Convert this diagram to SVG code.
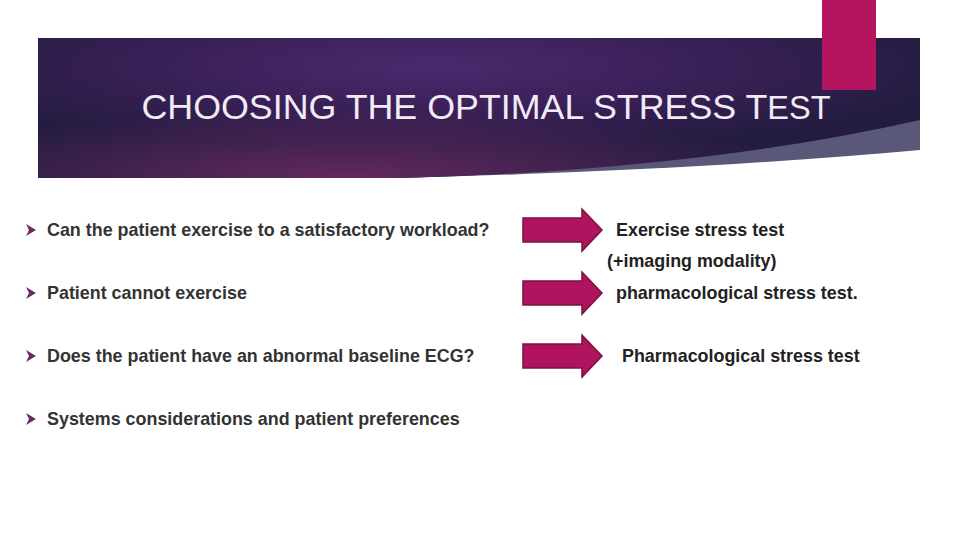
<svg xmlns="http://www.w3.org/2000/svg" width="960" height="540" viewBox="0 0 960 540">
<defs>
<radialGradient id="bg" cx="0.45" cy="0.2" r="0.6">
<stop offset="0" stop-color="#4a2a6e"/><stop offset="0.5" stop-color="#3a2058"/><stop offset="1" stop-color="#241c40"/>
</radialGradient>
<radialGradient id="pk" cx="0.35" cy="1" r="0.5">
<stop offset="0" stop-color="#6a2a62" stop-opacity="0.9"/><stop offset="1" stop-color="#6a2a62" stop-opacity="0"/>
</radialGradient>
<style>
.b{font-family:"Liberation Sans",Arial,sans-serif;font-weight:bold;font-size:17.9px;fill:#333}
.r{font-family:"Liberation Sans",Arial,sans-serif;font-weight:bold;font-size:17.9px;fill:#222}
.ar{fill:#b0145e;stroke:#7a1040;stroke-width:1.5}
.bl{fill:#6a2a5e}
</style>
</defs>
<g id="header">
<path d="M38 38 H920 V150 Q700 170 400 178 H38 Z" fill="#5a5878"/>
<path d="M38 38 H920 V120 Q700 170 400 178 H38 Z" fill="url(#bg)"/>
<path d="M38 38 H920 V120 Q700 170 400 178 H38 Z" fill="url(#pk)"/>
<rect x="822" y="0" width="54" height="90" fill="#b5145f"/>
<text x="486" y="119" text-anchor="middle" font-family="'Liberation Sans',Arial,sans-serif" font-size="35.8" fill="#f2eaf4">CHOOSING THE OPTIMAL STRESS T<tspan font-size="32.5">EST</tspan></text>
</g>
<g id="bullets">
<path class="bl" d="M26 224 L36 230 L26 236 L29 230 Z"/>
<text class="b" x="47" y="236">Can the patient exercise to a satisfactory workload?</text>
<path class="bl" d="M26 287 L36 293 L26 299 L29 293 Z"/>
<text class="b" x="47" y="299">Patient cannot exercise</text>
<path class="bl" d="M26 350 L36 356 L26 362 L29 356 Z"/>
<text class="b" x="47" y="362">Does the patient have an abnormal baseline ECG?</text>
<path class="bl" d="M26 413 L36 419 L26 425 L29 419 Z"/>
<text class="b" x="47" y="425">Systems considerations and patient preferences</text>
</g>
<g id="connectors">
<path class="ar" d="M523 218 H582 V209 L602 230 L582 251 V242 H523 Z"/>
<path class="ar" d="M523 281 H582 V272 L602 293 L582 314 V305 H523 Z"/>
<path class="ar" d="M523 344 H582 V335 L602 356 L582 377 V368 H523 Z"/>
</g>
<g id="results">
<text class="r" x="616" y="236">Exercise stress test</text>
<text class="r" x="607" y="267">(+imaging  modality)</text>
<text class="r" x="616" y="299">pharmacological stress test.</text>
<text class="r" x="622" y="362">Pharmacological stress test</text>
</g>
</svg>
